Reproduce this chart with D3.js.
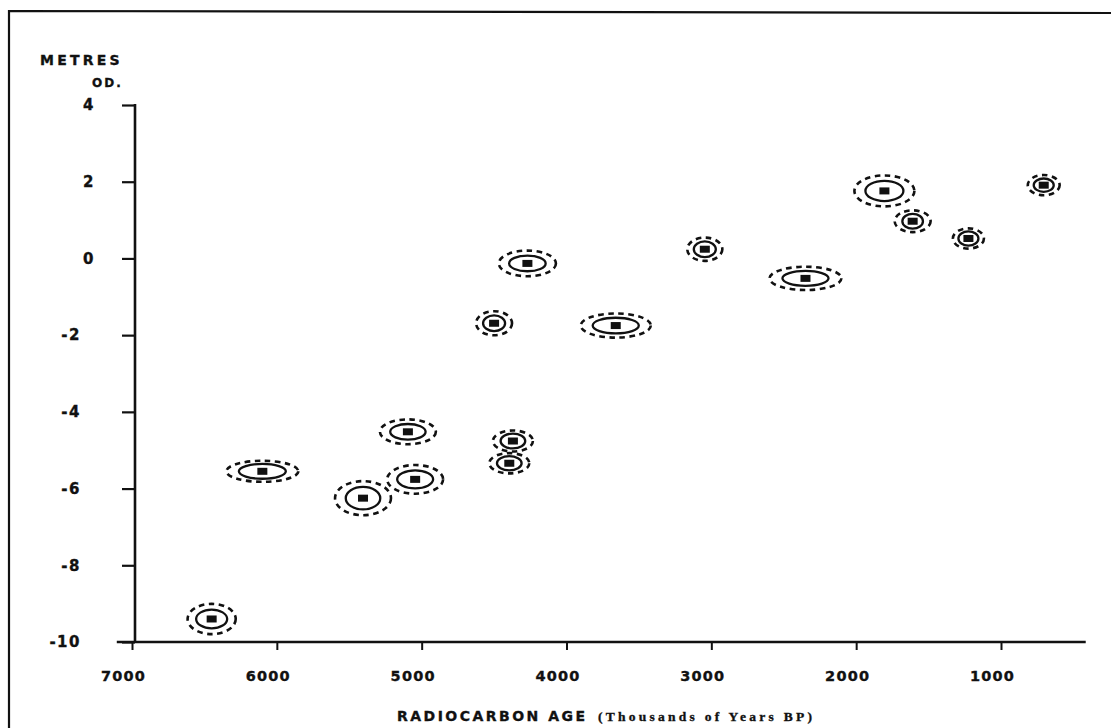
<!DOCTYPE html>
<html>
<head>
<meta charset="utf-8">
<script src="https://cdn.jsdelivr.net/npm/d3@7"></script>
<style>
  html, body { margin: 0; padding: 0; background: #fff; }
  svg { display: block; }
</style>
</head>
<body>
<svg id="chart" width="1111" height="728"></svg>
<script>
// ---- data ----
const ages       = [6450, 6100, 5405, 5095, 5045, 4500, 4370, 4395, 4270, 3660, 3045, 2350, 1805, 1610, 1225, 705];
const elevations = [-9.40, -5.55, -6.25, -4.52, -5.76, -1.69, -4.76, -5.34, -0.13, -1.75, 0.24, -0.52, 1.76, 0.97, 0.52, 1.91];
const ageErr1    = [114, 169, 126, 129, 131, 83, 92, 92, 133, 166, 83, 166, 138, 78, 76, 76];
const ageErr2    = [173, 255, 200, 200, 200, 131, 145, 145, 204, 249, 128, 255, 214, 131, 114, 117];
const elevErr1   = [0.27, 0.22, 0.32, 0.23, 0.26, 0.23, 0.22, 0.21, 0.23, 0.23, 0.23, 0.22, 0.29, 0.22, 0.21, 0.20];
const elevErr2   = [0.42, 0.30, 0.47, 0.35, 0.40, 0.34, 0.30, 0.29, 0.36, 0.34, 0.33, 0.33, 0.43, 0.31, 0.29, 0.29];
const xTicks     = [7000, 6000, 5000, 4000, 3000, 2000, 1000];
const yTicks     = [4, 2, 0, -2, -4, -6, -8, -10];
const xAxisExtent = [7105, 415];
const yTitle     = ["METRES", "OD."];
const xTitle     = ["RADIOCARBON AGE", "(Thousands of Years BP)"];

const ink = "#111";
const svg = d3.select("#chart");
svg.append("rect").attr("width", 1111).attr("height", 728).attr("fill", "#fff");

// frame
svg.append("path")
  .attr("d", "M9,728 L9,11 L1111,13")
  .attr("fill", "none").attr("stroke", ink).attr("stroke-width", 2.2);

const x = d3.scaleLinear().domain([7000, 1000]).range([132, 1001]);
const y = d3.scaleLinear().domain([-10, 4]).range([642, 105]);
const axisX0 = 135;

function boldText(sel, size, family) {
  sel.attr("font-family", family || "DejaVu Sans").attr("font-weight", "bold")
     .attr("font-size", size).attr("fill", ink)
     .attr("stroke", ink).attr("stroke-width", 0.35);
}

// x axis
const gx = svg.append("g").attr("transform", `translate(0,${y(-10)})`)
  .call(d3.axisBottom(x).tickValues(xTicks).tickSize(8).tickSizeOuter(0).tickFormat(d3.format("d")));
gx.select(".domain").remove();
gx.selectAll(".tick line").attr("stroke", ink).attr("stroke-width", 2);
gx.selectAll(".tick text").call(boldText, 14.5).attr("letter-spacing", 1.2)
  .attr("dx", -9).attr("y", 29);
svg.append("line")
  .attr("x1", x(xAxisExtent[0])).attr("x2", x(xAxisExtent[1]))
  .attr("y1", y(-10)).attr("y2", y(-10))
  .attr("stroke", ink).attr("stroke-width", 2.6);

// y axis
const gy = svg.append("g").attr("transform", `translate(${axisX0},0)`)
  .call(d3.axisLeft(y).tickValues(yTicks).tickSize(13).tickSizeOuter(0).tickFormat(d => d < 0 ? "-" + Math.abs(d) : d));
gy.select(".domain").remove();
gy.selectAll(".tick line").attr("stroke", ink).attr("stroke-width", 2.2);
gy.selectAll(".tick text").call(boldText, 15).attr("letter-spacing", 1.5)
  .attr("x", d => d < 0 ? -54 : -40);
svg.append("line")
  .attr("x1", axisX0).attr("x2", axisX0)
  .attr("y1", y(4) - 1).attr("y2", y(-10))
  .attr("stroke", ink).attr("stroke-width", 2.6);

// y title
svg.append("text").text(yTitle[0])
  .attr("x", 40).attr("y", 65).call(boldText, 14).attr("letter-spacing", 3.2);
svg.append("text").text(yTitle[1])
  .attr("x", 92).attr("y", 87).call(boldText, 12).attr("letter-spacing", 2);

// x title
svg.append("text").text(xTitle[0])
  .attr("x", 397).attr("y", 721).call(boldText, 14)
  .attr("textLength", 188).attr("lengthAdjust", "spacing");
svg.append("text").text(xTitle[1])
  .attr("x", 598).attr("y", 721).call(boldText, 13.5, "Liberation Serif")
  .attr("textLength", 214).attr("lengthAdjust", "spacing");

// data marks
const data = ages.map((a, i) => ({
  age: a, elev: elevations[i],
  ae1: ageErr1[i], ae2: ageErr2[i], ee1: elevErr1[i], ee2: elevErr2[i]
}));

const marks = svg.append("g").selectAll("g").data(data).join("g");

marks.append("ellipse")
  .attr("cx", d => x(d.age)).attr("cy", d => y(d.elev))
  .attr("rx", d => Math.abs(x(d.age + d.ae2) - x(d.age - d.ae2)) / 2 - 1)
  .attr("ry", d => Math.abs(y(d.elev + d.ee2) - y(d.elev - d.ee2)) / 2 - 1)
  .attr("fill", "none").attr("stroke", ink).attr("stroke-width", 2.6)
  .attr("stroke-dasharray", "5.5,4.5");

marks.append("ellipse")
  .attr("cx", d => x(d.age)).attr("cy", d => y(d.elev))
  .attr("rx", d => Math.abs(x(d.age + d.ae1) - x(d.age - d.ae1)) / 2 - 1)
  .attr("ry", d => Math.abs(y(d.elev + d.ee1) - y(d.elev - d.ee1)) / 2 - 1)
  .attr("fill", "none").attr("stroke", ink).attr("stroke-width", 2.3);

marks.append("rect")
  .attr("x", d => x(d.age) - 5).attr("y", d => y(d.elev) - 3.5)
  .attr("width", 10).attr("height", 7).attr("fill", ink);
</script>
</body>
</html>
